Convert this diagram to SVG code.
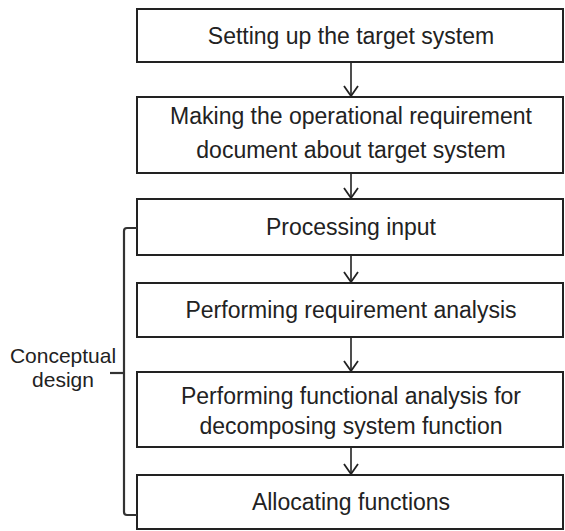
<svg xmlns="http://www.w3.org/2000/svg" width="565" height="531" viewBox="0 0 565 531">
<defs>
<marker id="ah" viewBox="0 0 12 16" refX="11" refY="8" markerWidth="12" markerHeight="16" markerUnits="userSpaceOnUse" orient="auto">
<path d="M1,1 L11,8 L1,15" fill="none" stroke="#222" stroke-width="1.8"/>
</marker>
<style>
.box{fill:#fff;stroke:#222;stroke-width:2}
.t{font-family:"Liberation Sans",Arial,sans-serif;font-size:23px;fill:#222;text-anchor:middle}
.s{font-size:21px}
.c{stroke:#222;stroke-width:1.6;fill:none}
.br{stroke:#333;stroke-width:2.2;fill:none}
</style>
</defs>
<rect width="565" height="531" fill="#fff"/>
<g id="connectors">
<line class="c" x1="351" y1="62" x2="351" y2="96" marker-end="url(#ah)"/>
<line class="c" x1="351" y1="173" x2="351" y2="198" marker-end="url(#ah)"/>
<line class="c" x1="351" y1="255" x2="351" y2="282" marker-end="url(#ah)"/>
<line class="c" x1="351" y1="337" x2="351" y2="371" marker-end="url(#ah)"/>
<line class="c" x1="351" y1="447" x2="351" y2="474" marker-end="url(#ah)"/>
</g>
<g id="n1"><rect class="box" x="137" y="9" width="426" height="53"/><text class="t" x="351" y="44">Setting up the target system</text></g>
<g id="n2"><rect class="box" x="137" y="97" width="426" height="76"/><text class="t" x="351" y="124">Making the operational requirement</text><text class="t" x="351" y="158">document about target system</text></g>
<g id="n3"><rect class="box" x="137" y="199" width="426" height="56"/><text class="t" x="351" y="235">Processing input</text></g>
<g id="n4"><rect class="box" x="137" y="283" width="426" height="54"/><text class="t" x="351" y="318">Performing requirement analysis</text></g>
<g id="n5"><rect class="box" x="137" y="372" width="426" height="75"/><text class="t" x="351" y="404">Performing functional analysis for</text><text class="t" x="351" y="434">decomposing system function</text></g>
<g id="n6"><rect class="box" x="137" y="475" width="426" height="54"/><text class="t" x="351" y="510">Allocating functions</text></g>
<g id="bracket">
<path class="br" d="M137,228 H127 Q124,228 124,231 V512 Q124,515 127,515 H137"/>
<line class="br" x1="110" y1="373" x2="124" y2="373"/>
<text class="t s" x="63" y="363">Conceptual</text>
<text class="t s" x="63" y="387">design</text>
</g>
</svg>
